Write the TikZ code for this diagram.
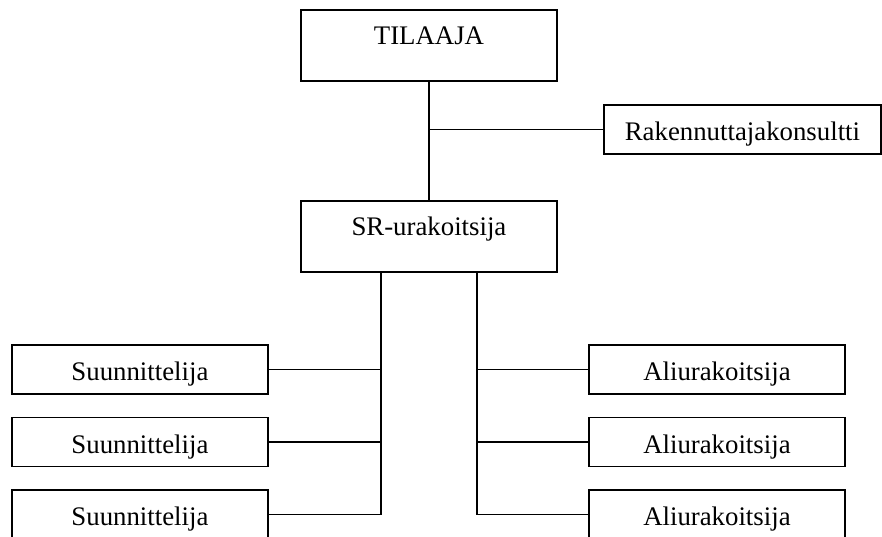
\documentclass[tikz,border=0pt]{standalone}
\usepackage{fontspec}
\setmainfont{Liberation Serif}
\begin{document}
\begin{tikzpicture}[x=1pt,y=-1pt,
  line width=1.9pt,
  box/.style={draw, rectangle, inner sep=0pt, minimum width=256pt,
    font=\fontsize{26.8}{30}\selectfont, text height=36pt, text depth=13pt},
  bigbox/.style={box, text height=34.5pt, text depth=36.5pt},
  wire/.style={draw, line width=1.9pt}]
\useasboundingbox (0,0) rectangle (882,536);

% top level
\node[bigbox, anchor=north west] (til) at (300,9) {TILAAJA};
\node[box, anchor=north west, minimum width=277pt] (rak) at (603,104) {Rakennuttajakonsultti};
\node[bigbox, anchor=north west] (sr) at (300,200) {SR-urakoitsija};

% designers (left) and subcontractors (right)
\node[box, anchor=north west] (s1) at (11,344) {Suunnittelija};
\node[box, anchor=north west] (s2) at (11,416.5) {Suunnittelija};
\node[box, anchor=north west] (s3) at (11,489) {Suunnittelija};
\node[box, anchor=north west] (a1) at (588,344) {Aliurakoitsija};
\node[box, anchor=north west] (a2) at (588,416.5) {Aliurakoitsija};
\node[box, anchor=north west] (a3) at (588,489) {Aliurakoitsija};

% trunk start points below the main contractor
\coordinate (tl) at ([xshift=-48pt]sr.south);
\coordinate (tr) at ([xshift=48pt]sr.south);

% connectors
\draw[wire] (til.south) -- (sr.north);
\draw[wire] (til.south |- rak.west) -- (rak.west);

\draw[wire] (tl) |- (s3.east);
\draw[wire] (tl |- s1.east) -- (s1.east);
\draw[wire] (tl |- s2.east) -- (s2.east);

\draw[wire] (tr) |- (a3.west);
\draw[wire] (tr |- a1.west) -- (a1.west);
\draw[wire] (tr |- a2.west) -- (a2.west);
\end{tikzpicture}
\end{document}
